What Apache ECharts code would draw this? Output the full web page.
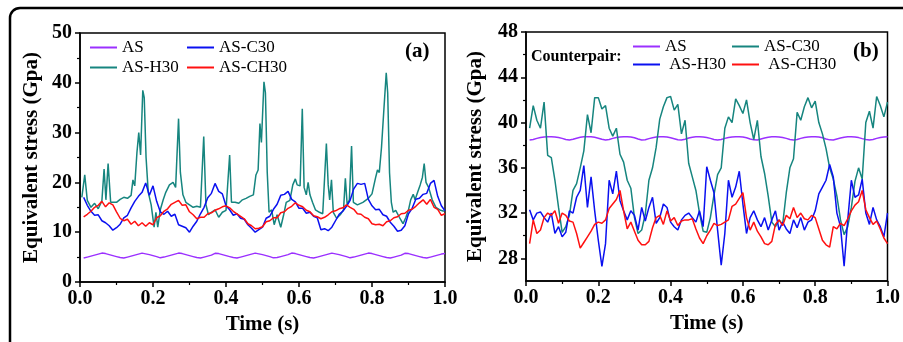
<!DOCTYPE html>
<html>
<head>
<meta charset="utf-8">
<script src="https://cdn.jsdelivr.net/npm/echarts@6/dist/echarts.min.js"></script>
<style>
  html, body { margin: 0; padding: 0; background: #fff; }
  #chart { width: 903px; height: 342px; }
</style>
</head>
<body>
<div id="chart"></div>
<script>
// shared sampling times (s)
const time = [0.01,0.02,0.03,0.04,0.05,0.06,0.07,0.08,0.09,0.10,
  0.11,0.12,0.13,0.14,0.15,0.16,0.17,0.18,0.19,0.20,
  0.21,0.22,0.23,0.24,0.25,0.26,0.27,0.28,0.29,0.30,
  0.31,0.32,0.33,0.34,0.35,0.36,0.37,0.38,0.39,0.40,
  0.41,0.42,0.43,0.44,0.45,0.46,0.47,0.48,0.49,0.50,
  0.51,0.52,0.53,0.54,0.55,0.56,0.57,0.58,0.59,0.60,
  0.61,0.62,0.63,0.64,0.65,0.66,0.67,0.68,0.69,0.70,
  0.71,0.72,0.73,0.74,0.75,0.76,0.77,0.78,0.79,0.80,
  0.81,0.82,0.83,0.84,0.85,0.86,0.87,0.88,0.89,0.90,
  0.91,0.92,0.93,0.94,0.95,0.96,0.97,0.98,0.99,1.00];

// panel (a)
const asA = [4.8,5.0,5.2,5.4,5.6,5.8,5.7,5.5,5.3,5.1,
  4.9,4.8,5.0,5.2,5.4,5.6,5.8,5.65,5.5,5.3,
  5.1,4.85,5.0,5.2,5.4,5.6,5.8,5.7,5.5,5.3,
  5.1,4.9,4.8,5.0,5.2,5.4,5.75,5.7,5.5,5.3,
  5.1,4.9,4.8,5.0,5.2,5.4,5.6,5.8,5.65,5.5,
  5.3,5.1,4.85,4.9,5.1,5.3,5.5,5.8,5.7,5.5,
  5.3,5.1,4.9,4.8,5.0,5.2,5.4,5.6,5.8,5.65,
  5.5,5.3,5.1,4.85,5.0,5.2,5.4,5.6,5.8,5.7,
  5.5,5.3,5.1,4.9,4.8,5.0,5.2,5.4,5.75,5.7,
  5.5,5.3,5.1,4.9,4.8,5.0,5.2,5.4,5.6,5.7];
const c30A = [17.0,15.4,14.2,13.4,13.5,12.3,11.9,11.3,10.4,10.9,
  11.6,12.9,13.4,14.9,16.2,17.2,18.0,19.9,17.4,19.3,
  16.2,14.1,13.6,14.2,13.2,13.6,11.5,11.2,10.9,10.0,
  11.2,12.2,13.7,15.0,16.9,17.8,19.8,18.2,17.7,15.3,
  14.5,13.4,13.7,12.8,12.6,11.5,10.8,10.0,10.5,11.0,
  12.8,13.2,14.6,15.6,17.4,17.6,18.2,16.6,16.1,14.8,
  14.8,13.8,14.0,13.2,12.9,10.5,10.7,10.3,11.0,12.3,
  13.6,14.2,15.2,16.4,18.7,19.8,19.6,19.8,16.6,15.3,
  14.5,14.6,13.5,13.2,12.0,11.2,10.2,10.4,11.3,13.7,
  14.8,16.6,16.8,17.6,17.8,19.8,20.4,17.2,15.3,14.3];
const ch30A = [13.1,13.6,14.2,15.0,15.4,16.2,15.1,15.9,15.5,14.1,
  12.8,12.3,12.6,11.6,12.2,11.3,11.9,11.2,11.9,11.5,
  12.9,13.3,14.2,14.7,15.6,16.0,16.4,15.4,15.5,14.1,
  13.5,12.7,13.0,13.0,13.7,13.9,14.4,14.7,15.1,15.3,
  14.9,14.2,13.7,13.2,12.7,11.7,11.3,10.7,10.8,11.1,
  12.1,12.3,12.9,12.9,13.9,14.1,14.8,15.2,15.9,15.4,
  15.1,14.4,14.1,13.3,13.1,12.7,13.0,13.5,14.1,14.3,
  14.7,14.9,15.5,15.0,14.6,13.7,13.6,13.0,12.7,11.7,
  11.5,11.6,11.3,12.1,12.3,12.9,13.1,13.7,13.8,14.4,
  14.6,15.2,15.9,16.5,15.6,16.6,15.0,14.6,13.4,13.7];
// AS-H30 in (a) is spiky, so it keeps its own vertex times
const h30ATime = [0.005,0.013,0.02,0.03,0.04,0.05,0.06,0.066,0.071,0.077,0.084,0.10,0.11,0.12,0.13,0.14,
  0.145,0.15,0.156,0.161,0.166,0.172,0.176,0.181,0.187,0.195,0.203,0.208,0.213,0.22,0.228,0.235,
  0.245,0.255,0.262,0.27,0.275,0.282,0.29,0.30,0.31,0.32,0.33,0.339,0.345,0.352,0.36,0.37,
  0.38,0.39,0.40,0.41,0.415,0.425,0.435,0.445,0.455,0.465,0.475,0.482,0.488,0.493,0.497,0.504,
  0.508,0.513,0.518,0.525,0.532,0.54,0.55,0.558,0.565,0.575,0.583,0.59,0.595,0.603,0.609,0.614,
  0.62,0.625,0.63,0.637,0.645,0.656,0.665,0.675,0.68,0.684,0.689,0.694,0.703,0.713,0.722,0.727,
  0.732,0.738,0.744,0.749,0.76,0.775,0.79,0.80,0.81,0.815,0.82,0.826,0.832,0.839,0.843,0.848,
  0.853,0.858,0.865,0.875,0.885,0.893,0.90,0.906,0.913,0.918,0.925,0.932,0.938,0.943,0.948,0.955,
  0.965,0.975,0.988,0.997];
const h30A = [17.0,21.5,16.4,15.0,15.8,14.7,16.3,22.7,16.5,23.8,16.0,16.0,16.6,17.0,16.8,17.4,
  20.5,19.3,26.0,30.0,25.5,38.5,37.0,25.0,18.0,15.5,11.0,14.0,11.0,14.5,16.5,18.0,
  19.5,20.0,19.0,32.8,22.0,17.5,16.0,15.5,15.0,15.2,15.0,29.2,15.5,13.5,14.0,14.5,
  13.0,14.0,14.4,25.5,16.0,16.0,15.8,16.5,16.8,17.2,17.5,21.5,22.5,31.8,28.0,40.2,
  38.0,22.0,14.0,14.5,11.5,13.5,11.0,13.5,16.0,16.4,19.5,20.7,19.5,19.3,34.8,19.0,
  17.5,20.0,17.5,16.0,14.5,14.0,13.7,27.8,19.5,16.5,20.5,14.0,12.8,13.5,14.5,20.8,
  15.5,16.5,27.3,16.0,15.5,16.0,16.8,17.7,21.0,22.5,22.0,27.0,34.0,42.0,38.0,22.0,
  16.0,14.0,14.4,13.0,11.7,13.0,14.5,16.5,17.6,16.5,18.0,19.5,21.0,23.8,20.0,19.0,
  16.5,15.0,14.4,14.2];

// panel (b)
const asB = [38.45,38.5,38.6,38.68,38.73,38.75,38.75,38.73,38.68,38.6,
  38.5,38.45,38.52,38.62,38.7,38.74,38.75,38.74,38.7,38.62,
  38.52,38.45,38.5,38.6,38.68,38.73,38.75,38.75,38.72,38.65,
  38.55,38.46,38.48,38.58,38.66,38.72,38.75,38.75,38.72,38.66,
  38.57,38.48,38.45,38.53,38.63,38.7,38.74,38.75,38.73,38.68,
  38.6,38.5,38.45,38.5,38.6,38.68,38.73,38.75,38.75,38.72,
  38.65,38.55,38.47,38.46,38.55,38.64,38.71,38.74,38.75,38.73,
  38.68,38.6,38.5,38.45,38.5,38.6,38.68,38.73,38.75,38.75,
  38.72,38.65,38.55,38.47,38.46,38.55,38.64,38.71,38.74,38.75,
  38.73,38.67,38.58,38.5,38.45,38.5,38.6,38.68,38.73,38.75];
const c30B = [39.5,41.5,40.2,39.5,41.8,37.1,36.9,34.9,32.5,30.3,
  30.8,31.8,34.0,34.6,36.0,37.5,40.7,39.1,42.2,42.2,
  41.2,41.5,39.5,38.8,39.5,37.2,36.5,34.9,34.2,31.6,
  30.2,30.5,31.9,34.9,36.0,37.8,40.3,41.4,42.2,42.3,
  41.1,41.6,39.0,40.2,36.4,35.2,34.0,32.0,30.4,30.3,
  31.6,33.6,35.4,36.0,39.5,40.5,40.0,42.1,41.5,40.8,
  42.0,40.0,38.5,40.2,37.0,35.5,33.5,31.2,30.8,31.4,
  31.0,33.8,36.0,36.8,40.9,40.2,41.4,42.2,41.3,41.9,
  40.0,39.0,37.7,36.0,35.0,33.5,31.4,30.1,30.8,32.5,
  34.8,36.0,35.0,40.0,41.0,39.5,42.3,41.5,40.5,41.8];
const h30B = [32.3,31.4,32.0,32.1,31.6,31.2,32.0,30.2,30.8,29.9,
  30.3,32.2,32.0,33.4,34.0,36.2,32.5,35.2,32.2,29.6,
  27.3,29.3,34.9,33.7,35.7,33.1,32.2,31.4,32.2,31.8,
  30.5,32.5,31.3,32.5,33.4,31.1,31.6,32.8,32.5,31.2,
  30.8,30.5,31.4,31.8,32.0,31.6,31.2,32.2,30.8,36.1,
  34.9,33.8,30.5,27.4,30.2,34.9,33.4,34.3,35.7,32.8,
  30.2,31.6,32.2,31.4,30.8,31.6,30.5,31.4,32.2,30.5,
  31.2,30.6,30.2,31.4,30.7,31.6,30.5,31.2,31.4,32.2,
  33.7,34.3,34.9,36.3,35.2,32.0,30.8,27.3,31.4,34.9,
  33.4,33.6,35.0,32.0,31.0,32.5,31.4,30.8,29.9,32.0];
const ch30B = [29.3,31.4,30.2,30.5,31.6,32.0,31.8,32.2,31.1,32.0,
  31.8,31.3,31.2,30.2,28.9,29.4,29.9,30.4,31.0,31.2,
  31.1,31.4,32.4,32.8,33.2,34.0,32.2,30.6,31.2,30.4,
  29.6,29.2,29.2,29.5,30.7,31.6,31.8,31.0,32.2,31.3,
  31.6,30.9,31.3,31.4,31.4,31.5,30.6,29.8,29.3,30.0,
  30.5,31.1,30.9,31.0,31.2,31.4,32.6,32.8,33.3,33.8,
  31.6,30.5,31.2,30.4,29.9,29.3,29.2,29.5,31.0,31.4,
  30.9,31.8,31.5,32.5,31.6,32.0,31.5,31.4,31.8,31.6,
  30.6,29.6,29.2,29.0,30.8,30.6,31.1,30.9,31.5,32.2,
  32.7,33.0,34.0,32.3,31.6,31.0,31.3,30.6,29.8,29.3];

const yTicksB = [28, 32, 36, 40, 44, 48];
const yMinorB = [30, 34, 38, 42, 46];

const FONT = 'Liberation Serif, Times New Roman, serif';
const PURPLE = '#9b30ff', BLUE = '#0a10f0', TEAL = '#16857f', RED = '#ff1010';

const zip = (t, v) => t.map((x, i) => [x, v[i]]);

const chart = echarts.init(document.getElementById('chart'), null, { renderer: 'canvas' });

const boldText = size => ({ color: '#000', fontFamily: FONT, fontWeight: 'bold', fontSize: size });

function xAxisFor(gridIndex) {
  return {
    type: 'value', gridIndex, min: 0, max: 1, interval: 0.2,
    axisLine: { show: true, lineStyle: { color: '#000', width: 1.5 } },
    axisTick: { show: true, length: 5, lineStyle: { color: '#000', width: 1.5 } },
    minorTick: { show: true, splitNumber: 2, length: 3, lineStyle: { color: '#000', width: 1.2 } },
    axisLabel: Object.assign(boldText(20), { margin: 7, formatter: v => v.toFixed(1) }),
    splitLine: { show: false },
    name: 'Time (s)', nameLocation: 'middle', nameGap: 31,
    nameTextStyle: boldText(21)
  };
}

function line(name, color, xi, data) {
  return {
    name, type: 'line', xAxisIndex: xi, yAxisIndex: xi === 0 ? 0 : 1,
    data, symbol: 'none', showSymbol: false,
    lineStyle: { color, width: 1.5 }, itemStyle: { color },
    animation: false
  };
}

// one legend box per entry so the two columns line up like the original
function legendAt(name, left, cy) {
  return {
    data: [name], left, top: cy - 9, padding: 0, itemGap: 0,
    icon: 'rect', itemWidth: 27, itemHeight: 2,
    textStyle: { color: '#000', fontFamily: FONT, fontSize: 17 },
    selectedMode: false
  };
}

const option = {
  backgroundColor: '#fff',
  animation: false,
  grid: [
    { left: 80, top: 33, width: 365, height: 249, show: true, borderColor: '#000', borderWidth: 1.5 },
    { left: 526, top: 32, width: 364, height: 249, show: true, borderColor: '#000', borderWidth: 1.5 }
  ],
  xAxis: [xAxisFor(0), xAxisFor(1)],
  yAxis: [
    {
      type: 'value', gridIndex: 0, position: 'left', min: 0, max: 50, interval: 10,
      axisLine: { show: true, lineStyle: { color: '#000', width: 1.5 } },
      axisTick: { show: true, length: 5, lineStyle: { color: '#000', width: 1.5 } },
      minorTick: { show: true, splitNumber: 2, length: 3, lineStyle: { color: '#000', width: 1.2 } },
      axisLabel: Object.assign(boldText(20), { margin: 8 }),
      splitLine: { show: false },
      name: 'Equivalent stress (Gpa)', nameLocation: 'middle', nameGap: 38,
      nameTextStyle: boldText(21)
    },
    {
      type: 'value', gridIndex: 1, position: 'left', min: 26, max: 48,
      axisLine: { show: true, lineStyle: { color: '#000', width: 1.5 } },
      axisTick: { show: true, length: 5, customValues: yTicksB, lineStyle: { color: '#000', width: 1.5 } },
      axisLabel: Object.assign(boldText(20), { margin: 8, customValues: yTicksB }),
      splitLine: { show: false },
      name: 'Equivalent stress (Gpa)', nameLocation: 'middle', nameGap: 40,
      nameTextStyle: boldText(21)
    },
    {
      // minor ticks for panel (b)
      type: 'value', gridIndex: 1, position: 'left', offset: 0, min: 26, max: 48,
      axisLine: { show: false },
      axisTick: { show: true, length: 3, customValues: yMinorB, lineStyle: { color: '#000', width: 1.2 } },
      axisLabel: { show: false, customValues: yMinorB },
      splitLine: { show: false }
    }
  ],
  legend: [
    legendAt('AS', 90, 48),
    legendAt('AS-C30', 187, 48),
    legendAt('AS-H30', 90, 68),
    legendAt('AS-CH30', 187, 68),
    legendAt('AS ', 633, 47),
    legendAt('AS-C30 ', 732, 47),
    legendAt(' AS-H30', 633, 65),
    legendAt(' AS-CH30', 732, 65)
  ],
  series: [
    line('AS', PURPLE, 0, zip(time, asA)),
    line('AS-H30', TEAL, 0, zip(h30ATime, h30A)),
    line('AS-C30', BLUE, 0, zip(time, c30A)),
    line('AS-CH30', RED, 0, zip(time, ch30A)),
    line('AS ', PURPLE, 1, zip(time, asB)),
    line('AS-C30 ', TEAL, 1, zip(time, c30B)),
    line(' AS-H30', BLUE, 1, zip(time, h30B)),
    line(' AS-CH30', RED, 1, zip(time, ch30B))
  ],
  graphic: [
    { type: 'rect', shape: { x: 10, y: 8, width: 1000, height: 1000, r: 10 },
      style: { fill: 'none', stroke: '#000', lineWidth: 2.5 }, silent: true },
    { type: 'text', x: 405, y: 52, style: { text: '(a)', textVerticalAlign: 'middle', fill: '#000', font: 'bold 21px ' + FONT } },
    { type: 'text', x: 853, y: 52, style: { text: '(b)', textVerticalAlign: 'middle', fill: '#000', font: 'bold 21px ' + FONT } },
    { type: 'text', x: 531, y: 57, style: { text: 'Counterpair:', textVerticalAlign: 'middle', fill: '#000', font: 'bold 16px ' + FONT } }
  ]
};

chart.setOption(option);
</script>
</body>
</html>
